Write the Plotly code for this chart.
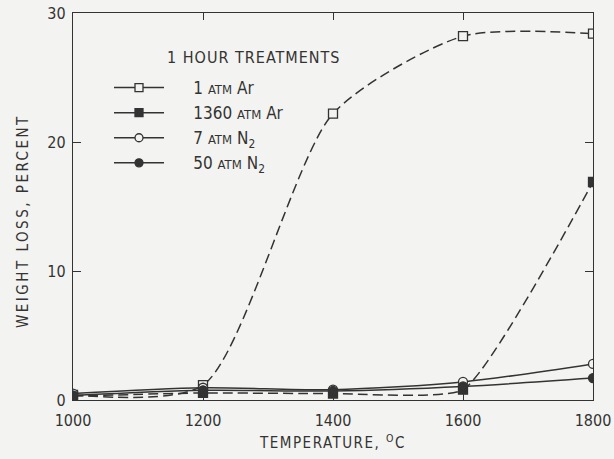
import plotly.graph_objects as go

temps = [1000, 1200, 1400, 1600, 1800]
ar_1atm = [0.4, 1.15, 22.2, 28.2, 28.4]
ar_1360atm = [0.3, 0.55, 0.5, 0.8, 16.9]
n2_7atm = [0.5, 0.95, 0.8, 1.4, 2.8]
n2_50atm = [0.35, 0.75, 0.7, 1.05, 1.7]

SC = "<span style='font-size:13px'>ATM</span>"
names = [
    f"1 {SC} Ar",
    f"1360 {SC} Ar",
    f"7 {SC} N<sub>2</sub>",
    f"50 {SC} N<sub>2</sub>",
]
legend_title = "1 HOUR TREATMENTS"
x_title = "TEMPERATURE, <sup>O</sup>C"
y_title = "WEIGHT LOSS, PERCENT"
x_ticks = [1000, 1200, 1400, 1600, 1800]
y_ticks = [0, 10, 20, 30]

INK = "#333333"
BG = "#f3f3f1"
FONT = "DejaVu Sans Condensed, Liberation Sans Narrow, DejaVu Sans, sans-serif"

L, R, T, B = 73, 21, 13, 59
W, H = 614, 459
PW, PH = W - L - R, H - T - B


def px(xpix):
    return (xpix - L) / PW


def py(ypix):
    return (H - B - ypix) / PH


series = [
    (ar_1atm, names[0], "square", "10px,5px", BG, 0.7),
    (ar_1360atm, names[1], "square", "10px,5px", INK, 0.45),
    (n2_7atm, names[2], "circle", "solid", BG, 0.8),
    (n2_50atm, names[3], "circle", "solid", INK, 0.8),
]

fig = go.Figure()
for vals, name, sym, dash, fill, sm in series:
    fig.add_trace(go.Scatter(
        x=temps, y=vals, name=name, mode="lines+markers", showlegend=False,
        line=dict(color=INK, width=1.5, dash=dash, shape="spline", smoothing=sm),
        marker=dict(symbol=sym, size=9, color=fill, line=dict(color=INK, width=1.3)),
    ))
# legend keys (solid line samples as in the original key)
for vals, name, sym, dash, fill, sm in series:
    fig.add_trace(go.Scatter(
        x=[None], y=[None], name="\u00a0" * 5 + name, mode="lines+markers",
        line=dict(color=INK, width=1.5),
        marker=dict(symbol=sym, size=8, color=fill, line=dict(color=INK, width=1.3)),
    ))

fig.add_annotation(text="<span style='letter-spacing:1px'>" + legend_title + "</span>",
                   xref="paper", yref="paper",
                   x=px(165), y=py(57), xanchor="left", yanchor="middle",
                   showarrow=False, font=dict(family=FONT, size=16, color=INK))

fig.add_annotation(text="<span style='letter-spacing:2.5px'>" + y_title + "</span>",
                   xref="paper", yref="paper", textangle=-90,
                   x=px(23), y=py(221), xanchor="center", yanchor="middle",
                   showarrow=False, font=dict(family=FONT, size=15, color=INK))

fig.update_layout(
    template="none",
    width=W, height=H,
    margin=dict(l=L, r=R, t=T, b=B),
    paper_bgcolor=BG, plot_bgcolor=BG,
    font=dict(family=FONT, size=16, color=INK),
    showlegend=True,
    legend=dict(x=px(109), y=py(70), xanchor="left", yanchor="top",
                bgcolor="rgba(0,0,0,0)", font=dict(family=FONT, size=17, color=INK),
                itemwidth=50),
    xaxis=dict(range=[1000, 1800], tickvals=x_ticks, ticks="inside", ticklen=7,
               showgrid=False, zeroline=False, showline=True, linecolor=INK, linewidth=1.3,
               mirror="ticks", tickcolor=INK, ticklabelstandoff=6, automargin=False,
               title=dict(text="<span style='letter-spacing:1.5px'>" + x_title + "</span>",
                          font=dict(size=15), standoff=8)),
    yaxis=dict(range=[0, 30], tickvals=y_ticks, ticks="inside", ticklen=8,
               showgrid=False, zeroline=False, showline=True, linecolor=INK, linewidth=1.3,
               mirror="ticks", tickcolor=INK, ticklabelstandoff=3, automargin=False),
)

fig.write_html("out.html")
